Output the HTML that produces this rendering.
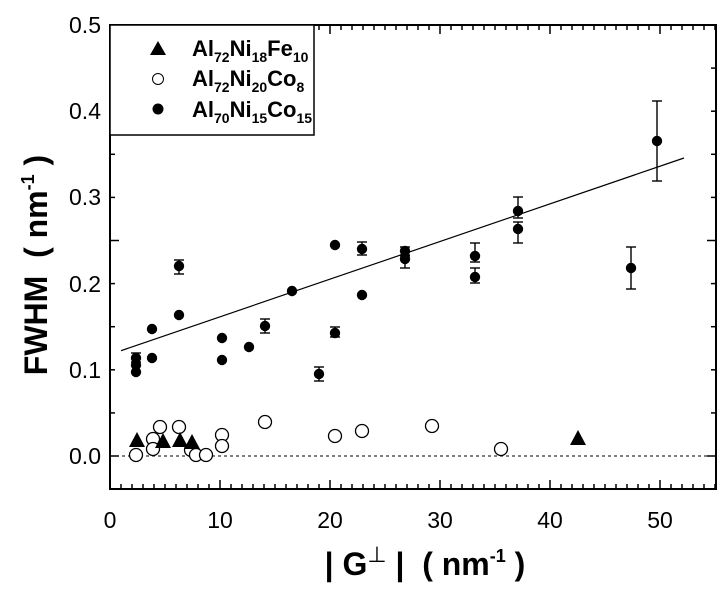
<!DOCTYPE html>
<html><head><meta charset="utf-8"><style>body{margin:0;background:#fff}svg{display:block}</style></head>
<body>
<svg width="728" height="589" viewBox="0 0 728 589" xmlns="http://www.w3.org/2000/svg" font-family="Liberation Sans, Arial, sans-serif">
<rect width="728" height="589" fill="#fff"/>
<g id="ticks" stroke="#000" stroke-width="1.5"></g>
<rect x="110" y="25" width="606" height="464" fill="none" stroke="#000" stroke-width="2"/>
<line x1="110" y1="456" x2="716" y2="456" stroke="#000" stroke-dasharray="3,3" stroke-width="1"/>
<line x1="121" y1="350.7" x2="684" y2="158" stroke="#000" stroke-width="1.2"/>
<g id="pts"></g>
<g font-size="23" text-anchor="end">
<text x="101" y="464">0.0</text><text x="101" y="378">0.1</text><text x="101" y="292">0.2</text><text x="101" y="205">0.3</text><text x="101" y="119">0.4</text><text x="101" y="33">0.5</text>
</g>
<g font-size="23" text-anchor="middle">
<text x="110" y="528">0</text><text x="220" y="528">10</text><text x="330" y="528">20</text><text x="440" y="528">30</text><text x="550" y="528">40</text><text x="660" y="528">50</text>
</g>
<text transform="translate(47,265) rotate(-90)" font-size="32" font-weight="bold" text-anchor="middle" xml:space="preserve">FWHM  ( nm<tspan dy="-13" font-size="18">-1</tspan><tspan dy="13"> )</tspan></text>
<text x="425" y="575" font-size="32" font-weight="bold" text-anchor="middle" xml:space="preserve">| G<tspan dy="-13" font-size="22" font-weight="normal">⊥</tspan><tspan dy="13"> |  ( nm</tspan><tspan dy="-13" font-size="18">-1</tspan><tspan dy="13"> )</tspan></text>
<rect x="110" y="25" width="204" height="110" fill="#fff" stroke="#000" stroke-width="1.5"/>
<polygon points="158,41 150,55 166,55" fill="#000"/>
<circle cx="158" cy="79" r="5.5" fill="#fff" stroke="#000"/>
<circle cx="158" cy="109" r="5.5" fill="#000"/>
<g font-size="22" font-weight="bold">
<text x="192" y="56">Al<tspan dy="6" font-size="14">72</tspan><tspan dy="-6">Ni</tspan><tspan dy="6" font-size="14">18</tspan><tspan dy="-6">Fe</tspan><tspan dy="6" font-size="14">10</tspan></text>
<text x="192" y="86">Al<tspan dy="6" font-size="14">72</tspan><tspan dy="-6">Ni</tspan><tspan dy="6" font-size="14">20</tspan><tspan dy="-6">Co</tspan><tspan dy="6" font-size="14">8</tspan></text>
<text x="192" y="117">Al<tspan dy="6" font-size="14">70</tspan><tspan dy="-6">Ni</tspan><tspan dy="6" font-size="14">15</tspan><tspan dy="-6">Co</tspan><tspan dy="6" font-size="14">15</tspan></text>
</g>
<script>
var NS="http://www.w3.org/2000/svg";
function el(p,t,a){var e=document.createElementNS(NS,t);for(var k in a)e.setAttribute(k,a[k]);p.appendChild(e);return e;}
var T=document.getElementById("ticks"),P=document.getElementById("pts");
for(var v=0;v<=55;v++){var x=110+11*v,L=(v%10==0)?9:5;el(T,"line",{x1:x,y1:489,x2:x,y2:489-L});el(T,"line",{x1:x,y1:25,x2:x,y2:25+L});}
for(var i=-2;i<=25;i++){var y=456-43.1*i,L=(i%5==0)?9:5;if(y<25||y>489)continue;el(T,"line",{x1:110,y1:y,x2:110+L,y2:y});el(T,"line",{x1:716,y1:y,x2:716-L,y2:y});}
var open=[[136,455],[153,439],[153,449],[160,427],[179,427],[191,450],[196,455],[206,455],[222,435],[222,446],[265,422],[335,436],[362,431],[432,426],[501,449]];
open.forEach(function(p){el(P,"circle",{cx:p[0],cy:p[1],r:6.5,fill:"#fff",stroke:"#000","stroke-width":1.3});});
var tri=[[137,440],[163,441],[180,440],[192,442],[578,438]];
tri.forEach(function(p){el(P,"polygon",{points:(p[0])+","+(p[1]-8)+" "+(p[0]-8)+","+(p[1]+7)+" "+(p[0]+8)+","+(p[1]+7),fill:"#000"});});
var fc=[[136,358,353,362],[136,365],[136,372],[152,329],[152,358],[179,266,260,274],[179,315],[222,338],[222,360],[249,347],[265,326,319,333],[292,291],[319,374,367,381],[335,245],[335,333,327,337],[362,249,242,255],[362,295],[405,251,247,256],[405,259,255,268],[475,256,243,262],[475,277,268,283],[518,211,197,218],[518,229,222,243],[631,268,247,289],[657,141,101,181]];
fc.forEach(function(p){if(p.length>2){var a={stroke:"#000","stroke-width":1.4};function ln(x1,y1,x2,y2){a.x1=x1;a.y1=y1;a.x2=x2;a.y2=y2;el(P,"line",a);}ln(p[0],p[2],p[0],p[3]);ln(p[0]-5,p[2],p[0]+5,p[2]);ln(p[0]-5,p[3],p[0]+5,p[3]);}el(P,"circle",{cx:p[0],cy:p[1],r:5.2,fill:"#000"});});
</script>
</svg>
</body></html>
